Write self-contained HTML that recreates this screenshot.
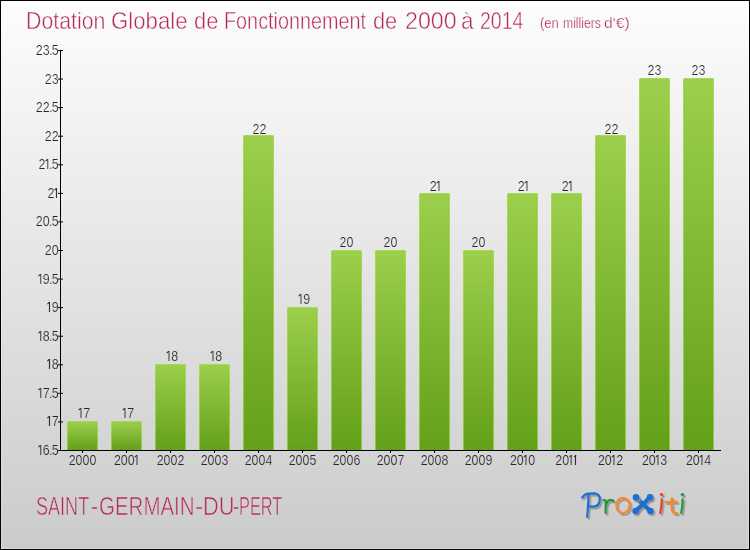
<!DOCTYPE html>
<html><head><meta charset="utf-8"><style>
*{margin:0;padding:0;box-sizing:border-box}
html,body{width:750px;height:550px;overflow:hidden;background:#fff}
body{position:relative;font-family:"Liberation Sans",sans-serif}
#c{position:absolute;left:0;top:0;width:750px;height:550px;
 background:linear-gradient(#fdfdfd,#cbcbcb)}
#bd{position:absolute;left:0;top:0;width:750px;height:550px;border:1px solid #000}
#bd2{position:absolute;left:1px;top:1px;width:748px;height:548px;border:1px solid rgba(255,255,255,0.27)}
.t{position:absolute;color:#b6275c;white-space:nowrap;transform-origin:0 0;-webkit-text-stroke:0.5px #fbfbfb}
.yl{position:absolute;right:691px;font-size:14px;color:#262626;line-height:20px;transform:scaleX(0.89);transform-origin:100% 0;-webkit-text-stroke-width:0.22px}
i.one{font-style:normal;margin:0 0.5px;position:relative} i.one:before{content:'';position:absolute;left:-1.2px;top:2.5px;width:2.8px;height:1px;background:currentColor;transform:rotate(-38deg);transform-origin:100% 0} i.dot{font-style:normal;margin:0 -0.8px}
.bar{position:absolute;width:31px;background:linear-gradient(#9ccf4c,#64a01a) border-box;border:1px solid rgba(170,225,90,0.6);border-bottom:none;border-radius:1.5px 1.5px 0 0}
.vl,.xl{position:absolute;width:51px;text-align:center;font-size:14px;color:#262626;line-height:20px;transform:scaleX(0.89);-webkit-text-stroke-width:0.22px}
.xl{top:450px;-webkit-text-stroke-color:#d3d3d3}
#ax{position:absolute;left:0;top:0}
</style></head><body>
<div id="c">
<div class="t" style="left:25.52px;top:6.5px;font-size:24px;transform:scaleX(0.8884)">Dotation</div>
<div class="t" style="left:110.78px;top:6.5px;font-size:24px;transform:scaleX(0.9247)">Globale</div>
<div class="t" style="left:194.09px;top:6.5px;font-size:24px;transform:scaleX(0.912)">de</div>
<div class="t" style="left:224.35px;top:6.5px;font-size:24px;transform:scaleX(0.8253)">Fonctionnement</div>
<div class="t" style="left:373.09px;top:6.5px;font-size:24px;transform:scaleX(0.908)">de</div>
<div class="t" style="left:405.03px;top:6.5px;font-size:24px;transform:scaleX(0.9673)">2000</div>
<div class="t" style="left:461.46px;top:6.5px;font-size:24px;transform:scaleX(0.9417)">à</div>
<div class="t" style="left:480.29px;top:6.5px;font-size:24px;transform:scaleX(0.8135)">2014</div>
<div class="t" style="left:540.07px;top:15px;font-size:14px;transform:scaleX(0.9316);-webkit-text-stroke-width:0.25px">(en</div>
<div class="t" style="left:562.83px;top:15px;font-size:14px;transform:scaleX(0.8714);-webkit-text-stroke-width:0.25px">milliers</div>
<div class="t" style="left:604.3px;top:15px;font-size:14px;transform:scaleX(1.1227);-webkit-text-stroke-width:0.25px">d'€)</div>
<svg id="ax" width="750" height="550" stroke="#000" stroke-width="1" shape-rendering="auto">
<line x1="60.5" x2="60.5" y1="50" y2="451"/>
<line x1="60" x2="721" y1="450.5" y2="450.5"/>
<line x1="58" x2="63" y1="450.50" y2="450.50"/>
<line x1="58" x2="63" y1="421.93" y2="421.93"/>
<line x1="58" x2="63" y1="393.36" y2="393.36"/>
<line x1="58" x2="63" y1="364.79" y2="364.79"/>
<line x1="58" x2="63" y1="336.21" y2="336.21"/>
<line x1="58" x2="63" y1="307.64" y2="307.64"/>
<line x1="58" x2="63" y1="279.07" y2="279.07"/>
<line x1="58" x2="63" y1="250.50" y2="250.50"/>
<line x1="58" x2="63" y1="221.93" y2="221.93"/>
<line x1="58" x2="63" y1="193.36" y2="193.36"/>
<line x1="58" x2="63" y1="164.79" y2="164.79"/>
<line x1="58" x2="63" y1="136.21" y2="136.21"/>
<line x1="58" x2="63" y1="107.64" y2="107.64"/>
<line x1="58" x2="63" y1="79.07" y2="79.07"/>
<line x1="58" x2="63" y1="50.50" y2="50.50"/>
<line x1="82.5" x2="82.5" y1="450" y2="453"/>
<line x1="126.5" x2="126.5" y1="450" y2="453"/>
<line x1="170.5" x2="170.5" y1="450" y2="453"/>
<line x1="214.5" x2="214.5" y1="450" y2="453"/>
<line x1="258.5" x2="258.5" y1="450" y2="453"/>
<line x1="302.5" x2="302.5" y1="450" y2="453"/>
<line x1="346.5" x2="346.5" y1="450" y2="453"/>
<line x1="390.5" x2="390.5" y1="450" y2="453"/>
<line x1="434.5" x2="434.5" y1="450" y2="453"/>
<line x1="478.5" x2="478.5" y1="450" y2="453"/>
<line x1="522.5" x2="522.5" y1="450" y2="453"/>
<line x1="566.5" x2="566.5" y1="450" y2="453"/>
<line x1="610.5" x2="610.5" y1="450" y2="453"/>
<line x1="654.5" x2="654.5" y1="450" y2="453"/>
<line x1="698.5" x2="698.5" y1="450" y2="453"/>
</svg>
<div class="yl" style="top:440px;-webkit-text-stroke-color:rgb(212,212,212)"><i class="one">I</i>6<i class="dot">.</i>5</div>
<div class="yl" style="top:411px;-webkit-text-stroke-color:rgb(215,215,215)"><i class="one">I</i>7</div>
<div class="yl" style="top:383px;-webkit-text-stroke-color:rgb(217,217,217)"><i class="one">I</i>7<i class="dot">.</i>5</div>
<div class="yl" style="top:354px;-webkit-text-stroke-color:rgb(220,220,220)"><i class="one">I</i>8</div>
<div class="yl" style="top:326px;-webkit-text-stroke-color:rgb(222,222,222)"><i class="one">I</i>8<i class="dot">.</i>5</div>
<div class="yl" style="top:297px;-webkit-text-stroke-color:rgb(225,225,225)"><i class="one">I</i>9</div>
<div class="yl" style="top:269px;-webkit-text-stroke-color:rgb(228,228,228)"><i class="one">I</i>9<i class="dot">.</i>5</div>
<div class="yl" style="top:240px;-webkit-text-stroke-color:rgb(230,230,230)">20</div>
<div class="yl" style="top:211px;-webkit-text-stroke-color:rgb(233,233,233)">20<i class="dot">.</i>5</div>
<div class="yl" style="top:183px;-webkit-text-stroke-color:rgb(235,235,235)">2<i class="one">I</i></div>
<div class="yl" style="top:154px;-webkit-text-stroke-color:rgb(238,238,238)">2<i class="one">I</i><i class="dot">.</i>5</div>
<div class="yl" style="top:126px;-webkit-text-stroke-color:rgb(241,241,241)">22</div>
<div class="yl" style="top:97px;-webkit-text-stroke-color:rgb(243,243,243)">22<i class="dot">.</i>5</div>
<div class="yl" style="top:69px;-webkit-text-stroke-color:rgb(246,246,246)">23</div>
<div class="yl" style="top:40px;-webkit-text-stroke-color:rgb(248,248,248)">23<i class="dot">.</i>5</div>
<div class="bar" style="left:67px;top:421px;height:29px"></div>
<div class="vl" style="left:59.0px;top:403px;-webkit-text-stroke-color:rgb(215,215,215)"><i class="one">I</i>7</div>
<div class="xl" style="left:57.4px">2000</div>
<div class="bar" style="left:111px;top:421px;height:29px"></div>
<div class="vl" style="left:103.0px;top:403px;-webkit-text-stroke-color:rgb(215,215,215)"><i class="one">I</i>7</div>
<div class="xl" style="left:101.4px">200<i class="one">I</i></div>
<div class="bar" style="left:155px;top:364px;height:86px"></div>
<div class="vl" style="left:147.0px;top:346px;-webkit-text-stroke-color:rgb(221,221,221)"><i class="one">I</i>8</div>
<div class="xl" style="left:145.4px">2002</div>
<div class="bar" style="left:199px;top:364px;height:86px"></div>
<div class="vl" style="left:191.0px;top:346px;-webkit-text-stroke-color:rgb(221,221,221)"><i class="one">I</i>8</div>
<div class="xl" style="left:189.4px">2003</div>
<div class="bar" style="left:243px;top:135px;height:315px"></div>
<div class="vl" style="left:233.7px;top:119px;-webkit-text-stroke-color:rgb(241,241,241)">22</div>
<div class="xl" style="left:233.4px">2004</div>
<div class="bar" style="left:287px;top:307px;height:143px"></div>
<div class="vl" style="left:279.0px;top:289px;-webkit-text-stroke-color:rgb(226,226,226)"><i class="one">I</i>9</div>
<div class="xl" style="left:277.4px">2005</div>
<div class="bar" style="left:331px;top:250px;height:200px"></div>
<div class="vl" style="left:320.6px;top:232px;-webkit-text-stroke-color:rgb(231,231,231)">20</div>
<div class="xl" style="left:321.4px">2006</div>
<div class="bar" style="left:375px;top:250px;height:200px"></div>
<div class="vl" style="left:364.6px;top:232px;-webkit-text-stroke-color:rgb(231,231,231)">20</div>
<div class="xl" style="left:365.4px">2007</div>
<div class="bar" style="left:419px;top:193px;height:257px"></div>
<div class="vl" style="left:409.7px;top:176px;-webkit-text-stroke-color:rgb(236,236,236)">2<i class="one">I</i></div>
<div class="xl" style="left:409.4px">2008</div>
<div class="bar" style="left:463px;top:250px;height:200px"></div>
<div class="vl" style="left:452.6px;top:232px;-webkit-text-stroke-color:rgb(231,231,231)">20</div>
<div class="xl" style="left:453.4px">2009</div>
<div class="bar" style="left:507px;top:193px;height:257px"></div>
<div class="vl" style="left:497.7px;top:176px;-webkit-text-stroke-color:rgb(236,236,236)">2<i class="one">I</i></div>
<div class="xl" style="left:497.4px">20<i class="one">I</i>0</div>
<div class="bar" style="left:551px;top:193px;height:257px"></div>
<div class="vl" style="left:541.7px;top:176px;-webkit-text-stroke-color:rgb(236,236,236)">2<i class="one">I</i></div>
<div class="xl" style="left:541.4px">20<i class="one">I</i><i class="one">I</i></div>
<div class="bar" style="left:595px;top:135px;height:315px"></div>
<div class="vl" style="left:585.7px;top:119px;-webkit-text-stroke-color:rgb(241,241,241)">22</div>
<div class="xl" style="left:585.4px">20<i class="one">I</i>2</div>
<div class="bar" style="left:639px;top:78px;height:372px"></div>
<div class="vl" style="left:629.2px;top:60px;-webkit-text-stroke-color:rgb(247,247,247)">23</div>
<div class="xl" style="left:629.4px">20<i class="one">I</i>3</div>
<div class="bar" style="left:683px;top:78px;height:372px"></div>
<div class="vl" style="left:673.2px;top:60px;-webkit-text-stroke-color:rgb(247,247,247)">23</div>
<div class="xl" style="left:673.4px">20<i class="one">I</i>4</div>
<div class="t" style="left:36.18px;top:491.5px;font-size:25px;transform:scaleX(0.7222);-webkit-text-stroke-color:#d0d0d0;-webkit-text-stroke-width:0.6px">SAINT</div>
<div class="t" style="left:91.35px;top:491.5px;font-size:25px;transform:scaleX(0.85);-webkit-text-stroke-color:#d0d0d0;-webkit-text-stroke-width:0.6px">-</div>
<div class="t" style="left:99.18px;top:491.5px;font-size:25px;transform:scaleX(0.8193);-webkit-text-stroke-color:#d0d0d0;-webkit-text-stroke-width:0.6px">GERMAIN</div>
<div class="t" style="left:195.02px;top:491.5px;font-size:25px;transform:scaleX(0.9833);-webkit-text-stroke-color:#d0d0d0;-webkit-text-stroke-width:0.6px">-</div>
<div class="t" style="left:203.06px;top:491.5px;font-size:25px;transform:scaleX(0.8719);-webkit-text-stroke-color:#d0d0d0;-webkit-text-stroke-width:0.6px">DU</div>
<div class="t" style="left:233.37px;top:491.5px;font-size:25px;transform:scaleX(0.7333);-webkit-text-stroke-color:#d0d0d0;-webkit-text-stroke-width:0.6px">-</div>
<div class="t" style="left:239.39px;top:491.5px;font-size:25px;transform:scaleX(0.6531);-webkit-text-stroke-color:#d0d0d0;-webkit-text-stroke-width:0.6px">PERT</div>
<svg width="750" height="550" viewBox="0 0 750 550" style="position:absolute;left:0;top:0">
<defs><filter id="sh" x="-20%" y="-20%" width="140%" height="140%"><feDropShadow dx="1.6" dy="1.8" stdDeviation="0.7" flood-color="#8c8c8c" flood-opacity="0.85"/></filter></defs>
<g filter="url(#sh)" fill="none" stroke-linecap="round" stroke-linejoin="round" stroke-width="2.2">
<path stroke="#1a70d2" d="M582.2,497.6 Q584.5,494 588.5,493.6 L594.5,493.4 Q599.8,493.8 599.8,499.6 Q599.6,506.2 593.5,506.6 L590,506.3"/>
<path stroke="#1a70d2" d="M588.6,494.5 Q588.2,506 587.2,517"/>
<path stroke="#1f993a" d="M603.8,500.3 Q605.6,499.4 605.8,501.5 L605.6,513"/>
<path stroke="#1f993a" d="M605.9,505.5 Q607.2,500 610.5,499.8 Q612.8,499.8 613.8,501.2"/>
<ellipse stroke="#f5891f" cx="623" cy="505.4" rx="6.6" ry="7.6"/>
<path stroke="#1a70d2" stroke-width="4.2" d="M636,497.4 L650.3,511 M650,497.4 L635.7,511"/>
<path stroke="#e8411c" d="M661.8,499.3 Q661.6,508 660.2,513"/>
<path stroke="#f5891f" d="M672,498.4 Q671.2,505 672,510 Q673.5,513.6 677.2,513.2 M666,502.2 Q671,501.6 676.8,501.8"/>
<path stroke="#1f993a" d="M682.6,499.3 Q682.4,508 681.2,513"/>
</g>
<g filter="url(#sh)">
<circle fill="#1a70d2" cx="636" cy="497.4" r="3.3"/><circle fill="#1a70d2" cx="650" cy="497.4" r="3.3"/>
<circle fill="#1a70d2" cx="635.6" cy="511" r="3.3"/><circle fill="#1a70d2" cx="650.4" cy="511" r="3.3"/>
<circle fill="#e8411c" cx="661.6" cy="494.6" r="1.7"/><circle fill="#1f993a" cx="682.4" cy="494.6" r="1.7"/>
</g></svg>

<div id="bd2"></div><div id="bd"></div>
</div>
</body></html>
